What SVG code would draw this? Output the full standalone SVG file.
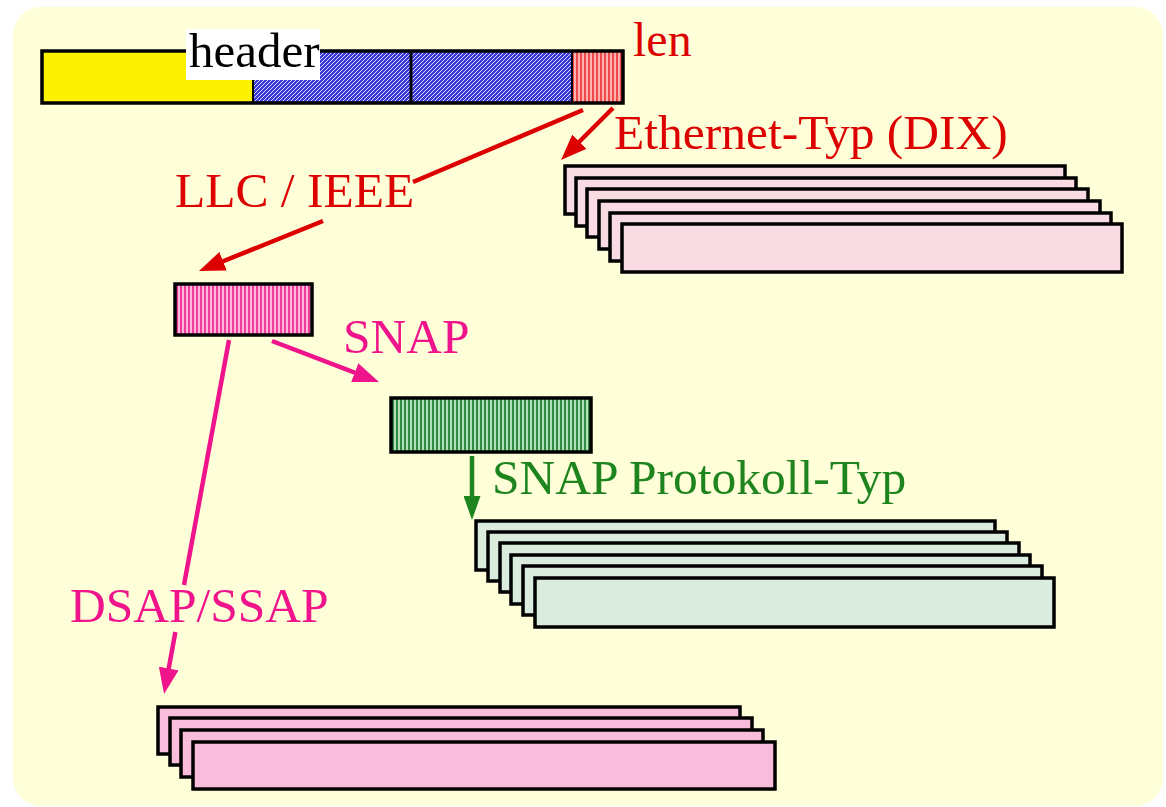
<svg xmlns="http://www.w3.org/2000/svg" width="1166" height="807" viewBox="0 0 1166 807">
<style>
.lbl{font-family:"Liberation Serif","Times New Roman",serif;font-size:49.5px}
.red{fill:#dd0000}
.pink{fill:#f0148c}
.green{fill:#1e841e}
.box{stroke:#000;stroke-width:3.5}
.eth{fill:#f9dce3;stroke:#000;stroke-width:3.5}
.snp{fill:#d9ecdd;stroke:#000;stroke-width:3.5}
.dsap{fill:#f9bddb;stroke:#000;stroke-width:3.5}
.conn{fill:none;stroke-width:4.5;stroke-linecap:butt}
</style>
<defs>
<pattern id="blueHatch" patternUnits="userSpaceOnUse" width="4" height="4">
<rect width="4" height="4" fill="#3c3cdc"/>
<path d="M-1,1 L1,-1 M0,4 L4,0 M3,5 L5,3" stroke="#d8d8ff" stroke-width="1"/>
</pattern>
<pattern id="redStripe" patternUnits="userSpaceOnUse" width="4" height="4">
<rect width="4" height="4" fill="#ffb0b0"/>
<rect x="0" width="2" height="4" fill="#ee4a4a"/>
</pattern>
<pattern id="pinkStripe" patternUnits="userSpaceOnUse" width="4" height="4">
<rect width="4" height="4" fill="#ffb8dc"/>
<rect x="0" width="2" height="4" fill="#ee3c9c"/>
</pattern>
<pattern id="greenStripe" patternUnits="userSpaceOnUse" width="4" height="4">
<rect width="4" height="4" fill="#b2e0b8"/>
<rect x="0" width="2" height="4" fill="#2f8c42"/>
</pattern>
<marker id="ahRed" viewBox="0 0 26 20" refX="14" refY="10" markerWidth="26" markerHeight="20" markerUnits="userSpaceOnUse" orient="auto">
<path d="M0,0 L26,10 L0,20 Z" fill="#dd0000"/>
</marker>
<marker id="ahPink" viewBox="0 0 26 20" refX="14" refY="10" markerWidth="26" markerHeight="20" markerUnits="userSpaceOnUse" orient="auto">
<path d="M0,0 L26,10 L0,20 Z" fill="#f0148c"/>
</marker>
<marker id="ahGreen" viewBox="0 0 24 17" refX="12" refY="8.5" markerWidth="24" markerHeight="17" markerUnits="userSpaceOnUse" orient="auto">
<path d="M0,0 L24,8.5 L0,17 Z" fill="#1e841e"/>
</marker>
</defs>

<rect x="13" y="7" width="1150" height="799" rx="28" ry="28" fill="#fefed8"/>

<g id="header-frame">
<rect x="42" y="51" width="211" height="52" fill="#fcf200"/>
<rect x="253" y="51" width="158" height="52" fill="url(#blueHatch)"/>
<rect x="411" y="51" width="161" height="52" fill="url(#blueHatch)"/>
<rect x="572" y="51" width="51" height="52" fill="url(#redStripe)"/>
<line x1="253" y1="51" x2="253" y2="103" stroke="#000" stroke-width="2"/>
<line x1="411" y1="51" x2="411" y2="103" stroke="#000" stroke-width="3"/>
<line x1="572" y1="51" x2="572" y2="103" stroke="#000" stroke-width="2"/>
<rect x="42" y="51" width="581" height="52" fill="none" class="box"/>
<rect x="186" y="29" width="134" height="51" fill="#ffffff"/>
<text x="189" y="67" class="lbl" fill="#000" style="font-size:49px">header</text>
<text x="633" y="56" class="lbl red" style="font-size:48px">len</text>
</g>

<g id="ethernet-stack">
<rect x="565" y="166" width="500" height="48" class="eth"/>
<rect x="576" y="178" width="500" height="48" class="eth"/>
<rect x="587" y="189" width="501" height="48" class="eth"/>
<rect x="599" y="201" width="501" height="48" class="eth"/>
<rect x="610" y="213" width="501" height="48" class="eth"/>
<rect x="622" y="224" width="500" height="48" class="eth"/>
</g>

<g id="llc-box">
<rect x="175" y="284" width="137" height="51" fill="url(#pinkStripe)" class="box"/>
</g>

<g id="snap-box">
<rect x="391" y="398" width="200" height="54" fill="url(#greenStripe)" class="box"/>
</g>

<g id="snap-stack">
<rect x="476" y="521" width="519" height="49" class="snp"/>
<rect x="488" y="532" width="519" height="49" class="snp"/>
<rect x="500" y="543" width="519" height="49" class="snp"/>
<rect x="511" y="555" width="519" height="49" class="snp"/>
<rect x="523" y="566" width="519" height="49" class="snp"/>
<rect x="535" y="578" width="519" height="49" class="snp"/>
</g>

<g id="dsap-stack">
<rect x="158" y="707" width="582" height="47" class="dsap"/>
<rect x="170" y="718" width="582" height="47" class="dsap"/>
<rect x="181" y="730" width="582" height="47" class="dsap"/>
<rect x="193" y="742" width="582" height="47" class="dsap"/>
</g>

<g id="connectors">
<path d="M583,110 L413,182 M323,221 L210.1,266.5" class="conn" stroke="#dd0000" marker-end="url(#ahRed)"/>
<path d="M613,108 L569.5,151.5" class="conn" stroke="#dd0000" marker-end="url(#ahRed)"/>
<path d="M272,341 L367.8,377.7" class="conn" stroke="#f0148c" marker-end="url(#ahPink)"/>
<path d="M229,340 L184,585 M175.4,632 L166.2,682.2" class="conn" stroke="#f0148c" marker-end="url(#ahPink)"/>
<path d="M472,456 L472,508" class="conn" stroke="#1e841e" stroke-width="3" marker-end="url(#ahGreen)"/>
</g>

<g id="labels">
<text x="614" y="149" class="lbl red">Ethernet-Typ (DIX)</text>
<text x="175" y="207" class="lbl red">LLC / IEEE</text>
<text x="343" y="353" class="lbl pink">SNAP</text>
<text x="492" y="494" class="lbl green">SNAP Protokoll-Typ</text>
<text x="70" y="622" class="lbl pink">DSAP/SSAP</text>
</g>
</svg>
